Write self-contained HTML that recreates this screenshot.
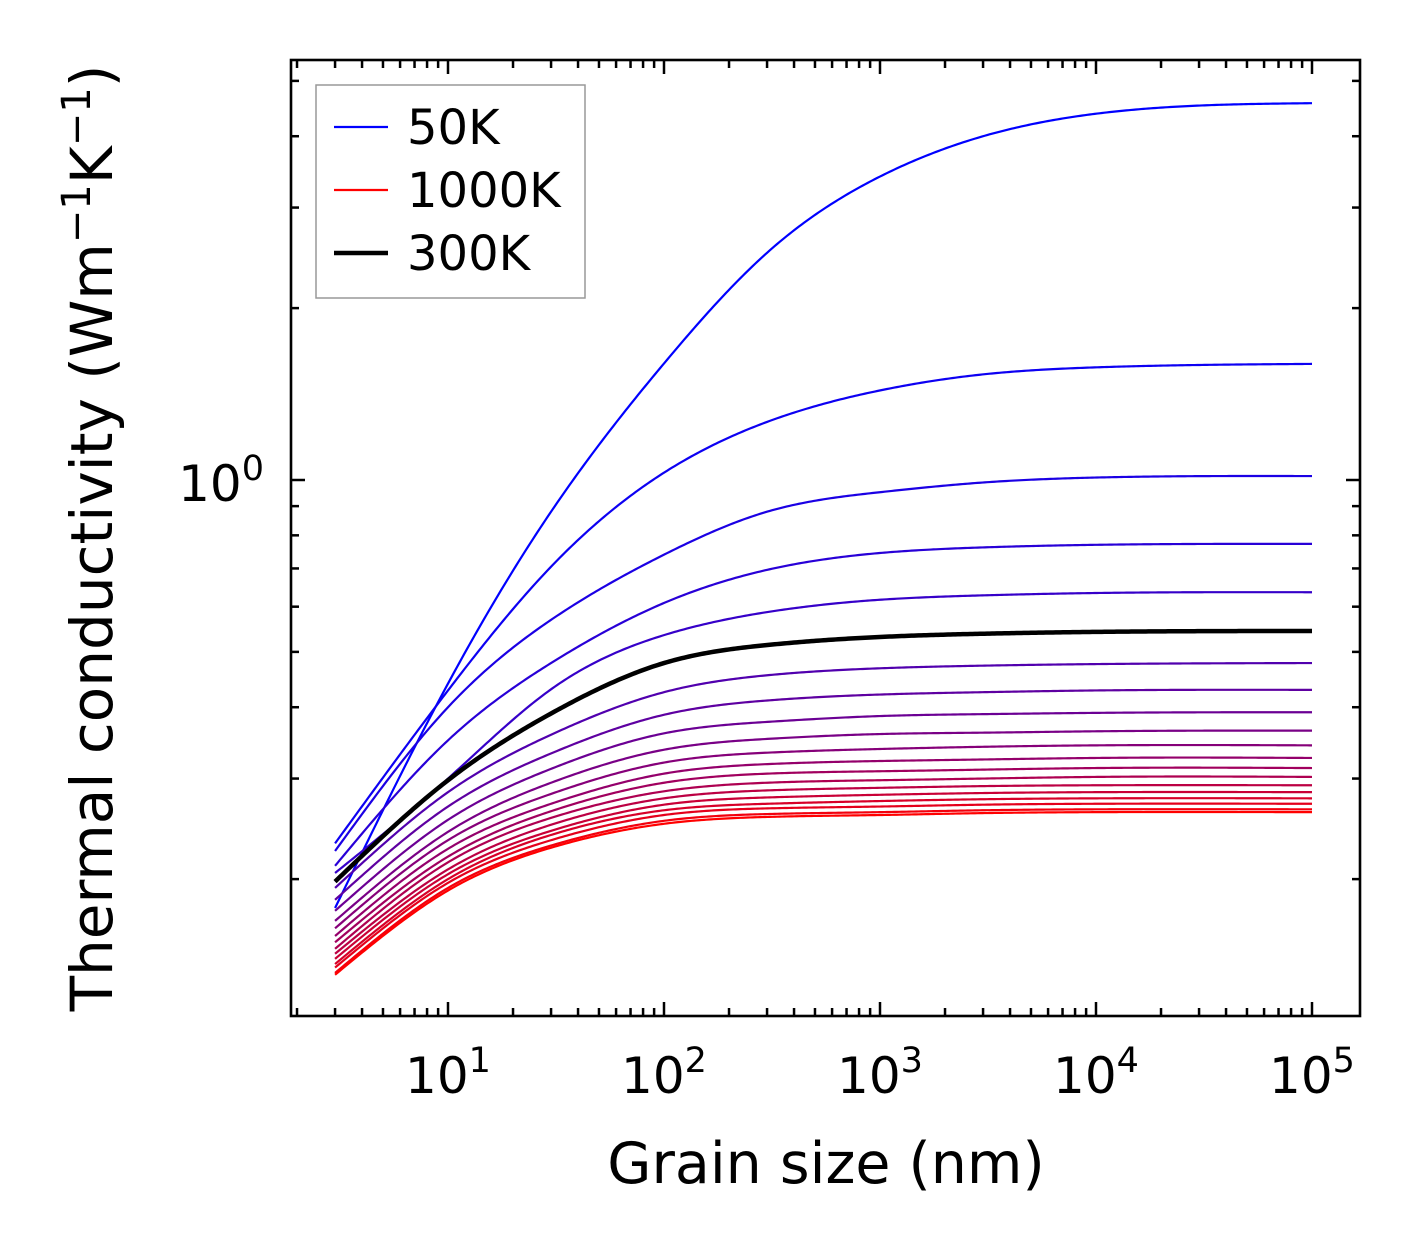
<!DOCTYPE html>
<html><head><meta charset="utf-8">
<style>
html,body{margin:0;padding:0;background:#fff;}
svg{display:block;font-family:"DejaVu Sans","Liberation Sans",sans-serif;}
</style></head>
<body>
<svg id="chart" width="1421" height="1254" viewBox="0 0 1421 1254" xmlns="http://www.w3.org/2000/svg">
<rect x="0" y="0" width="1421" height="1254" fill="#fff"/>
<g id="curves"></g>
<g id="axes"></g>
<rect x="291" y="60" width="1069" height="956" fill="none" stroke="#000" stroke-width="2.6"/>
<text x="826" y="1183" font-size="57" text-anchor="middle">Grain size (nm)</text>
<text transform="translate(112,538) rotate(-90)" font-size="58" text-anchor="middle">Thermal conductivity (Wm<tspan font-size="40" dy="-22">−1</tspan><tspan dy="22">K</tspan><tspan font-size="40" dy="-22">−1</tspan><tspan dy="22">)</tspan></text>
<g>
<rect x="316" y="85" width="269" height="213" fill="#fff" stroke="#999" stroke-width="1.5"/>
<line x1="334" y1="127" x2="388" y2="127" stroke="#0000ff" stroke-width="2.2"/>
<text x="407" y="144" font-size="48">50K</text>
<line x1="334" y1="190" x2="388" y2="190" stroke="#ff0000" stroke-width="2.2"/>
<text x="407" y="207" font-size="48">1000K</text>
<line x1="334" y1="253" x2="388" y2="253" stroke="#000" stroke-width="4.5"/>
<text x="407" y="270" font-size="48">300K</text>
</g>
</svg>
<script>
const grainSizes = [3, 10, 30, 100, 300, 1000, 3000, 10000, 100000];
const temperatures = [50,100,150,200,250,300,350,400,450,500,550,600,650,700,750,800,850,900,950,1000];
const k50 = [0.178,0.44,0.88,1.6,2.5,3.4,4.0,4.38,4.57];
const k100 = [0.231,0.428,0.705,1.03,1.264,1.435,1.531,1.575,1.597];
const k150 = [0.224,0.40,0.569,0.74,0.88,0.952,0.99,1.01,1.016];
const k200 = [0.211,0.35,0.478,0.609,0.696,0.745,0.762,0.77,0.773];
const k250 = [0.205,0.30,0.43,0.535,0.587,0.617,0.628,0.634,0.636];
const k300 = [0.198,0.298,0.39,0.478,0.514,0.531,0.538,0.542,0.544];
const k350 = [0.193,0.284,0.358,0.425,0.455,0.468,0.473,0.476,0.478];
const k400 = [0.184,0.268,0.332,0.388,0.411,0.421,0.425,0.428,0.429];
const k450 = [0.176,0.254,0.312,0.360,0.377,0.386,0.389,0.391,0.392];
const k500 = [0.169,0.242,0.295,0.337,0.352,0.359,0.361,0.363,0.364];
const k550 = [0.164,0.234,0.282,0.320,0.333,0.338,0.341,0.343,0.343];
const k600 = [0.159,0.226,0.271,0.306,0.318,0.322,0.324,0.326,0.326];
const k650 = [0.155,0.219,0.263,0.295,0.306,0.309,0.311,0.313,0.313];
const k700 = [0.151,0.214,0.256,0.285,0.295,0.298,0.300,0.302,0.302];
const k750 = [0.148,0.208,0.249,0.277,0.286,0.289,0.291,0.292,0.292];
const k800 = [0.145,0.204,0.243,0.270,0.278,0.281,0.283,0.284,0.284];
const k850 = [0.142,0.200,0.239,0.264,0.271,0.274,0.276,0.277,0.277];
const k900 = [0.140,0.197,0.234,0.259,0.266,0.268,0.270,0.271,0.271];
const k950 = [0.137,0.193,0.229,0.253,0.260,0.262,0.264,0.265,0.265];
const k1000 = [0.136,0.191,0.227,0.250,0.257,0.259,0.261,0.262,0.262];
const xTickExps = [1,2,3,4,5];
const yMajorTicks = [1];
const yMinorTicks = [0.2,0.3,0.4,0.5,0.6,0.7,0.8,0.9,2,3,4,5];

const series = [k50,k100,k150,k200,k250,k300,k350,k400,k450,k500,k550,k600,k650,k700,k750,k800,k850,k900,k950,k1000];
const NS = "http://www.w3.org/2000/svg";
const X0 = 232, XD = 216, Y0 = 480, YD = 571;
const PL = 291, PR = 1360, PT = 60, PB = 1016;
function xs(v){ return X0 + XD*Math.log10(v); }
function ys(v){ return Y0 - YD*Math.log10(v); }

function spline(xa, ya){
  const n = xa.length, h = [], al = [], l = [1], mu = [0], z = [0];
  for (let i=0;i<n-1;i++) h.push(xa[i+1]-xa[i]);
  for (let i=1;i<n-1;i++) al[i] = 3/h[i]*(ya[i+1]-ya[i]) - 3/h[i-1]*(ya[i]-ya[i-1]);
  for (let i=1;i<n-1;i++){
    l[i] = 2*(xa[i+1]-xa[i-1]) - h[i-1]*mu[i-1];
    mu[i] = h[i]/l[i];
    z[i] = (al[i]-h[i-1]*z[i-1])/l[i];
  }
  const c = new Array(n).fill(0), b = [], d = [];
  for (let j=n-2;j>=0;j--){
    c[j] = (j>0 ? z[j] - mu[j]*c[j+1] : 0);
    b[j] = (ya[j+1]-ya[j])/h[j] - h[j]*(c[j+1]+2*c[j])/3;
    d[j] = (c[j+1]-c[j])/(3*h[j]);
  }
  return function(x){
    let i=0; while(i<n-2 && x>xa[i+1]) i++;
    const t = x-xa[i];
    return ya[i]+b[i]*t+c[i]*t*t+d[i]*t*t*t;
  };
}

function curvePath(vals){
  const lx = grainSizes.map(v=>Math.log10(v));
  const ly = vals.map(v=>Math.log10(v));
  const f = spline(lx, ly);
  let p = "";
  const a = lx[0], b = lx[lx.length-1];
  for (let i=0;i<=400;i++){
    const L = a + (b-a)*i/400;
    const px = X0 + XD*L, py = Y0 - YD*f(L);
    p += (i?"L":"M") + px.toFixed(2) + "," + py.toFixed(2);
  }
  return p;
}

const cg = document.getElementById("curves");
series.forEach((vals, i) => {
  const t = (temperatures[i]-50)/950;
  const path = document.createElementNS(NS, "path");
  path.setAttribute("d", curvePath(vals));
  path.setAttribute("fill", "none");
  path.setAttribute("stroke", "rgb(" + Math.round(255*t) + ",0," + Math.round(255*(1-t)) + ")");
  path.setAttribute("stroke-width", "2.2");
  
  
  cg.appendChild(path);
});
const blk = document.createElementNS(NS, "path");
blk.setAttribute("d", curvePath(k300));
blk.setAttribute("fill", "none");
blk.setAttribute("stroke", "#000");
blk.setAttribute("stroke-width", "4.5");


cg.appendChild(blk);

const ag = document.getElementById("axes");
function line(x1,y1,x2,y2,name){
  const l = document.createElementNS(NS, "line");
  l.setAttribute("x1",x1); l.setAttribute("y1",y1); l.setAttribute("x2",x2); l.setAttribute("y2",y2);
  l.setAttribute("stroke","#000"); l.setAttribute("stroke-width","2.5");
  
  
  ag.appendChild(l);
}
for (let e=0;e<=5;e++){
  for (let m=1;m<=9;m++){
    const v = m*Math.pow(10,e);
    const x = xs(v);
    if (x < PL || x > PR) continue;
    const len = m===1 ? 14 : 8;
    line(x,PB,x,PB-len,'x-tick');
    line(x,PT,x,PT+len,'x-tick-top');
  }
}
xTickExps.forEach(e=>{
  const t = document.createElementNS(NS,"text");
  t.setAttribute("x", xs(Math.pow(10,e)));
  t.setAttribute("y", 1093);
  t.setAttribute("font-size","50");
  t.setAttribute("text-anchor","middle");
  
  
  t.innerHTML = '10<tspan font-size="35" dy="-21">' + e + '</tspan>';
  ag.appendChild(t);
});
yMajorTicks.forEach(v=>{
  const y = ys(v);
  line(PL,y,PL+14,y,'y-tick');
  line(PR,y,PR-14,y,'y-tick-right');
  const t = document.createElementNS(NS,"text");
  t.setAttribute("x", 264);
  t.setAttribute("y", y+21);
  t.setAttribute("font-size","50");
  t.setAttribute("text-anchor","end");
  
  
  t.innerHTML = '10<tspan font-size="35" dy="-21">0</tspan>';
  ag.appendChild(t);
});
yMinorTicks.forEach(v=>{
  const y = ys(v);
  if (y < PT || y > PB) return;
  line(PL,y,PL+8,y,'y-minor-tick');
  line(PR,y,PR-8,y,'y-minor-tick-right');
});
</script>
</body></html>
